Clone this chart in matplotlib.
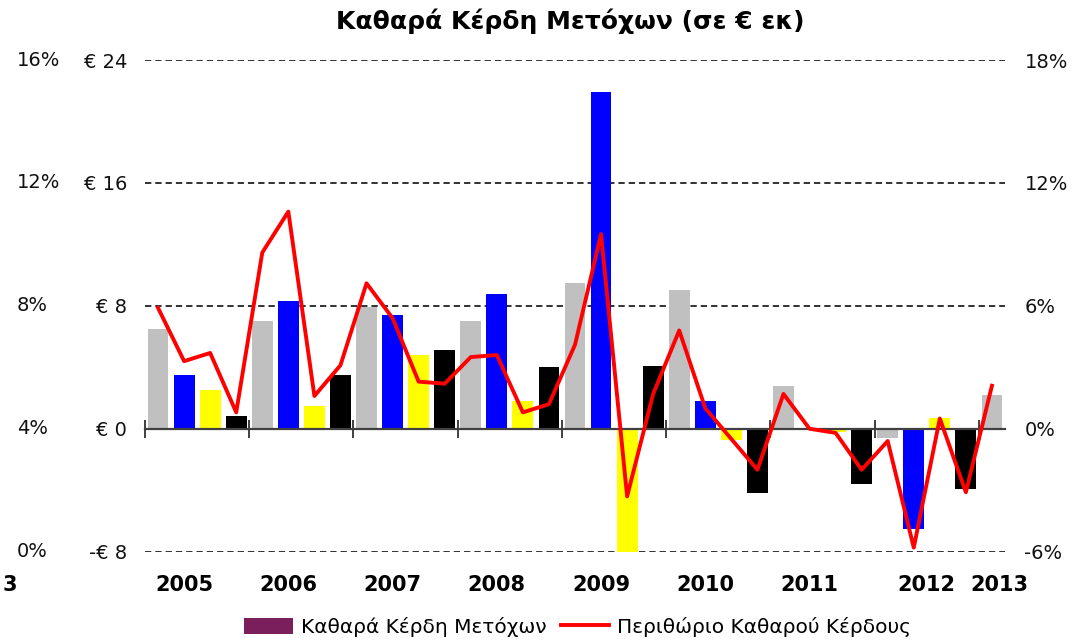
import numpy as np
import matplotlib
matplotlib.use("Agg")
import matplotlib.pyplot as plt
import matplotlib.transforms as mtransforms
from matplotlib.patches import Patch
from matplotlib.lines import Line2D

plt.rcParams['font.family'] = ['DejaVu Sans']

# -----------------------------
#  Data (quarterly, 2005Q1 - 2013Q1)
# -----------------------------
years = ['2005', '2006', '2007', '2008', '2009', '2010', '2011', '2012', '2013']
quarter_colors = ['#C0C0C0', '#0000FF', '#FFFF00', '#000000']

net_profit = [6.5, 3.5, 2.5, 0.8,
              7.0, 8.3, 1.5, 3.5,
              7.9, 7.4, 4.8, 5.1,
              7.0, 8.8, 1.8, 4.0,
              9.5, 21.9, -8.3, 4.1,
              9.0, 1.8, -0.7, -4.2,
              2.8, 0.0, -0.2, -3.6,
              -0.6, -6.5, 0.7, -3.9,
              2.2]

net_margin = [5.9, 3.3, 3.7, 0.8,
              8.6, 10.6, 1.6, 3.1,
              7.1, 5.4, 2.3, 2.2,
              3.5, 3.6, 0.8, 1.2,
              4.1, 9.5, -3.3, 1.7,
              4.8, 1.0, -0.5, -2.0,
              1.7, 0.0, -0.2, -2.0,
              -0.6, -5.8, 0.5, -3.1,
              2.1]

year_label_pos = [1, 5, 9, 13, 17, 21, 25, 29.5, 32.3]

left_ticks = [-8, 0, 8, 16, 24]
left_labels = ['-€ 8', '€ 0', '€ 8', '€ 16', '€ 24']
left_pct_labels = ['0%', '4%', '8%', '12%', '16%']
right_ticks = [-6, 0, 6, 12, 18]
right_labels = ['-6%', '0%', '6%', '12%', '18%']

# -----------------------------
#  Figure
# -----------------------------
fig = plt.figure(figsize=(10.92, 6.42), dpi=100)
ax = fig.add_axes([0.1328, 0.1407, 0.7875, 0.7658])

x = np.arange(len(net_profit))
colors = [quarter_colors[i % 4] for i in x]
ax.bar(x, net_profit, width=0.8, color=colors, zorder=1)

ax.set_xlim(-0.5, len(net_profit) - 0.5)
ax.set_ylim(-8, 24)

# zero axis with ticks every year
for s in ['top', 'right', 'left']:
    ax.spines[s].set_visible(False)
ax.spines['bottom'].set_position(('data', 0))
ax.spines['bottom'].set_color('#404040')
ax.spines['bottom'].set_linewidth(1.6)
ax.set_xticks(np.arange(-0.5, len(net_profit), 4))
ax.tick_params(axis='x', direction='inout', length=13, width=1.4,
               color='#404040', labelbottom=False)

ax.set_yticks(left_ticks)
ax.set_yticklabels(left_labels, fontsize=14, color='#111111')
ax.tick_params(axis='y', length=0, pad=13)
ax.set_axisbelow(True)
ax.yaxis.grid(True, linestyle=(0, (3.5, 2.2)), color='#222222', linewidth=1.3)

# extra percent column on the left
trans = mtransforms.blended_transform_factory(fig.transFigure, ax.transData)
for yv, lab in zip(left_ticks, left_pct_labels):
    ax.text(0.0156, yv, lab, transform=trans, ha='left', va='center',
            fontsize=14, color='#111111')

# year labels under the plot
tr_x = mtransforms.blended_transform_factory(ax.transData, fig.transFigure)
for pos, yr in zip(year_label_pos, years):
    ax.text(pos, 1 - 585 / 642, yr, transform=tr_x, ha='center', va='center',
            fontsize=15, fontweight='bold', clip_on=False)
fig.text(0.002, 1 - 585 / 642, '3', ha='left', va='center',
         fontsize=15, fontweight='bold')

# margin line on secondary axis
ax2 = ax.twinx()
ax2.plot(x, net_margin, color='#FF0000', linewidth=2.8, zorder=3)
ax2.set_ylim(-6, 18)
ax2.set_yticks(right_ticks)
ax2.set_yticklabels(right_labels, fontsize=14, color='#111111')
ax2.tick_params(axis='y', length=0, pad=14)
for s in ['top', 'right', 'left', 'bottom']:
    ax2.spines[s].set_visible(False)

fig.text(0.522, 1 - 21 / 642, 'Καθαρά Κέρδη Μετόχων (σε € εκ)',
         ha='center', va='center', fontsize=18, fontweight='bold')

handles = [Patch(facecolor='#7B1F5C', edgecolor='none'),
           Line2D([0], [0], color='#FF0000', linewidth=2.8)]
fig.legend(handles, ['Καθαρά Κέρδη Μετόχων', 'Περιθώριο Καθαρού Κέρδους'],
           loc='center', bbox_to_anchor=(0.529, 1 - 627 / 642), ncol=2,
           frameon=False, fontsize=14.5, handlelength=2.4, handleheight=0.9,
           handletextpad=0.4, columnspacing=0.7)

fig.savefig('out.png', dpi=100)
